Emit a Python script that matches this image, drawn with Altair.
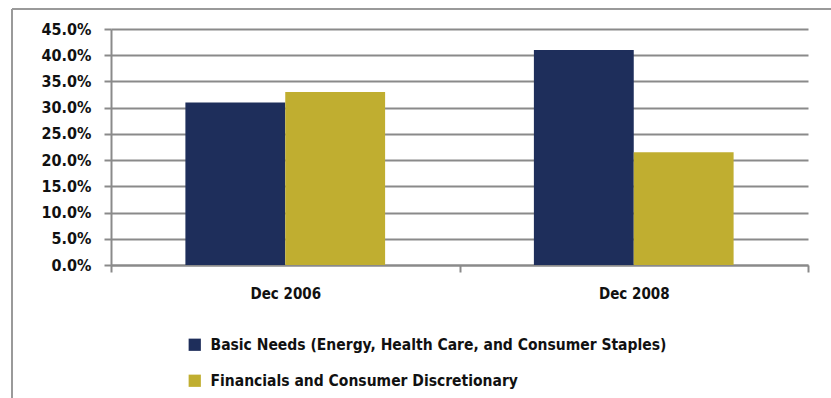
import altair as alt
import pandas as pd

periods = ["Dec 2006", "Dec 2006", "Dec 2008", "Dec 2008"]
series = [
    "Basic Needs (Energy, Health Care, and Consumer Staples)",
    "Financials and Consumer Discretionary",
    "Basic Needs (Energy, Health Care, and Consumer Staples)",
    "Financials and Consumer Discretionary",
]
values = [0.31, 0.33, 0.41, 0.215]
series_order = [
    "Basic Needs (Energy, Health Care, and Consumer Staples)",
    "Financials and Consumer Discretionary",
]
colors = ["#1E2E5B", "#C0AE30"]
y_ticks = [0, 0.05, 0.10, 0.15, 0.20, 0.25, 0.30, 0.35, 0.40, 0.45]

df = pd.DataFrame({"period": periods, "series": series, "value": values})

FONT = "DejaVu Sans Condensed"
GRAY = "#8a8a8a"

bars = alt.Chart(df).mark_bar().encode(
    x=alt.X("period:N", title=None, sort=["Dec 2006", "Dec 2008"],
            scale=alt.Scale(paddingInner=0, paddingOuter=0),
            axis=alt.Axis(labelAngle=0, tickBand="extent", domainColor=GRAY,
                          domainWidth=2, tickColor=GRAY, tickWidth=2, tickSize=7,
                          labelPadding=14, labelFont=FONT, labelFontSize=15,
                          labelFontWeight="bold", labelColor="#111111", grid=False)),
    xOffset=alt.XOffset("series:N", sort=series_order,
                        scale=alt.Scale(paddingInner=0, paddingOuter=0.745)),
    y=alt.Y("value:Q", title=None,
            scale=alt.Scale(domain=[0, 0.45], nice=False),
            axis=alt.Axis(values=y_ticks, format=".1%", grid=True, gridColor=GRAY,
                          gridWidth=2, domainColor=GRAY, domainWidth=2,
                          tickColor=GRAY, tickWidth=2, tickSize=7, labelPadding=13,
                          labelFont=FONT, labelFontSize=16, labelFontWeight="bold",
                          labelColor="#111111")),
    color=alt.Color("series:N", sort=series_order,
                    scale=alt.Scale(domain=series_order, range=colors),
                    legend=alt.Legend(title=None, orient="none", legendX=76, legendY=308,
                                      direction="vertical", symbolType="square",
                                      symbolSize=150, symbolStrokeWidth=0,
                                      rowPadding=19, labelFont=FONT, labelFontSize=15.5,
                                      labelFontWeight="bold", labelColor="#111111",
                                      labelLimit=600, labelOffset=8)),
)

frame_left = alt.Chart(df).mark_rule(color="#9a9a9a", strokeWidth=2).encode(
    x=alt.value(-99), y=alt.value(-20), y2=alt.value(400))
frame_top = alt.Chart(df).mark_rule(color="#9a9a9a", strokeWidth=2).encode(
    x=alt.value(-99), x2=alt.value(740), y=alt.value(-20))

chart = alt.layer(frame_left, frame_top, bars).properties(
    width=697, height=236,
    autosize=alt.AutoSizeParams(type="none"),
    padding={"left": 111, "top": 29, "right": 23, "bottom": 133},
).configure_view(stroke=None)

chart.save("out.html", embed_options={"renderer": "svg", "actions": False})
